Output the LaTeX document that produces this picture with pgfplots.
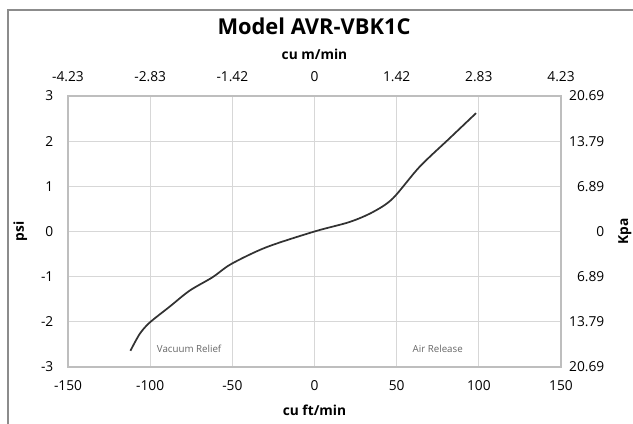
\documentclass[border=0pt]{standalone}
\usepackage{pgfplots}
\pgfplotsset{compat=1.18}
\usepackage{fontspec}
\setmainfont{Open Sans}
\definecolor{gridc}{RGB}{215,215,215}
\definecolor{axc}{RGB}{190,190,190}
\definecolor{linec}{RGB}{50,50,50}
\begin{document}
\begin{tikzpicture}
\useasboundingbox (0,0) rectangle (474.75pt,318pt);
\draw[color={rgb,255:red,140;green,140;blue,140}, line width=1.5pt] (6pt,-10pt) -- (6pt,310.5pt) -- (490pt,310.5pt);
\node[font=\bfseries\fontsize{16.4}{19}\selectfont] at (235.5pt,298pt) {Model AVR-VBK1C};
\begin{axis}[
  at={(51pt,42.75pt)}, anchor=south west,
  scale only axis, width=369.75pt, height=203.25pt,
  xmin=-150, xmax=150, ymin=-3, ymax=3,
  xtick={-150,-100,-50,0,50,100,150},
  ytick={-3,-2,-1,0,1,2,3},
  grid=major,
  grid style={gridc, line width=0.8pt},
  axis line style={axc, line width=1pt},
  major tick length=0pt,
  /pgf/number format/assume math mode=true,
  tick label style={font=\fontsize{10.3}{12}\selectfont, color=black},
  xticklabel style={yshift=-6.5pt},
  yticklabel style={xshift=-7.5pt},
  xlabel={\bfseries cu ft/min},
  ylabel={\bfseries psi},
  label style={font=\bfseries\fontsize{10.3}{12}\selectfont},
  xlabel style={yshift=-4pt},
  ylabel style={yshift=3.5pt},
  clip=false,
]
\addplot[linec, line width=1.3pt, smooth, tension=0.5] coordinates {
(-112,-2.64) (-106.4,-2.27) (-100.4,-2.02) (-88,-1.66) (-76,-1.31) (-61.9,-1.01) (-50.7,-0.72)
(-29.4,-0.35) (0,0) (21.3,0.21) (35.5,0.43) (47.6,0.73) (63.9,1.43) (82.1,2.06) (98.3,2.62)
};
\node[font=\fontsize{7.3}{9}\selectfont, text=gray!80!black] at (axis cs:-76.3,-2.6) {Vacuum Relief};
\node[font=\fontsize{7.3}{9}\selectfont, text=gray!80!black] at (axis cs:75,-2.6) {Air Release};
\end{axis}
\begin{axis}[
  at={(51pt,42.75pt)}, anchor=south west,
  scale only axis, width=369.75pt, height=203.25pt,
  xmin=-150, xmax=150, ymin=-3, ymax=3,
  axis x line*=top, axis y line*=right,
  xtick={-150,-100,-50,0,50,100,150},
  xticklabels={-4.23,-2.83,-1.42,0,1.42,2.83,4.23},
  ytick={-3,-2,-1,0,1,2,3},
  yticklabels={20.69,13.79,6.89,0,6.89,13.79,20.69},
  axis line style={axc, line width=1pt},
  major tick length=0pt,
  tick label style={font=\fontsize{10.3}{12}\selectfont, color=black},
  xticklabel style={yshift=7.5pt},
  yticklabel style={anchor=east, xshift=36pt},
  xlabel={\bfseries cu m/min},
  ylabel={\bfseries Kpa},
  label style={font=\bfseries\fontsize{10.3}{12}\selectfont},
  xlabel style={yshift=1.5pt},
  ylabel style={yshift=-3.75pt},
]
\end{axis}
\end{tikzpicture}
\end{document}
